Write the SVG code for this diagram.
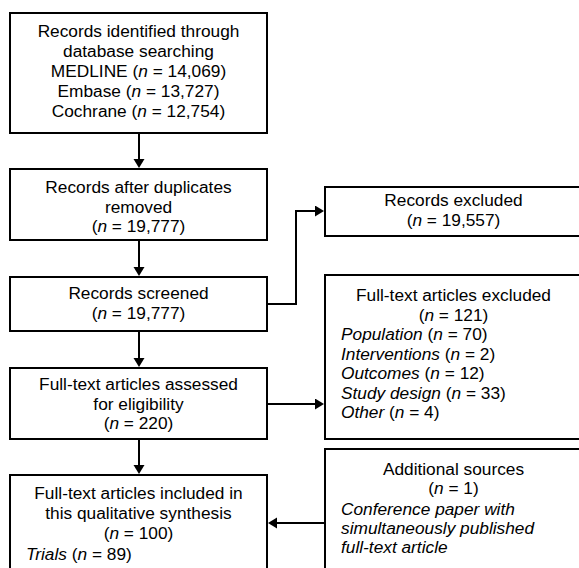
<svg xmlns="http://www.w3.org/2000/svg" width="579" height="568" viewBox="0 0 579 568">
  <style>
    .box { fill: #ffffff; stroke: #000000; stroke-width: 2; }
    .t { font-family: "Liberation Sans", Arial, sans-serif; font-size: 17.3px; fill: #000000; }
    .c { text-anchor: middle; }
    .i { font-style: italic; }
    .conn { fill: none; stroke: #000000; stroke-width: 2; }
  </style>
  <defs>
    <marker id="arrow" markerUnits="userSpaceOnUse" markerWidth="10" markerHeight="12" refX="5" refY="5.5" orient="auto">
      <path d="M0,0 L9,5.5 L0,11 z" fill="#000000"/>
    </marker>
  </defs>
  <rect x="0" y="0" width="579" height="568" fill="#ffffff"/>

  <g id="connectors">
    <line class="conn" x1="139" y1="133" x2="139" y2="164" marker-end="url(#arrow)"/>
    <line class="conn" x1="139" y1="240" x2="139" y2="272" marker-end="url(#arrow)"/>
    <line class="conn" x1="139" y1="331" x2="139" y2="363" marker-end="url(#arrow)"/>
    <line class="conn" x1="139" y1="439" x2="139" y2="470" marker-end="url(#arrow)"/>
    <polyline class="conn" points="267,304 296,304 296,211 320,211" marker-end="url(#arrow)"/>
    <line class="conn" x1="267" y1="404" x2="320" y2="404" marker-end="url(#arrow)"/>
    <line class="conn" x1="325" y1="523" x2="272" y2="523" marker-end="url(#arrow)"/>
  </g>

  <g id="identified">
    <rect class="box" x="10" y="13" width="257" height="120"/>
    <text class="t c" x="138.5" y="37">Records identified through</text>
    <text class="t c" x="138.5" y="57">database searching</text>
    <text class="t c" x="138.5" y="77">MEDLINE (<tspan class="i">n</tspan> = 14,069)</text>
    <text class="t c" x="138.5" y="97">Embase (<tspan class="i">n</tspan> = 13,727)</text>
    <text class="t c" x="138.5" y="117">Cochrane (<tspan class="i">n</tspan> = 12,754)</text>
  </g>

  <g id="duplicates">
    <rect class="box" x="10" y="169" width="257" height="71"/>
    <text class="t c" x="138.5" y="193">Records after duplicates</text>
    <text class="t c" x="138.5" y="212.5">removed</text>
    <text class="t c" x="138.5" y="232">(<tspan class="i">n</tspan> = 19,777)</text>
  </g>

  <g id="screened">
    <rect class="box" x="10" y="277" width="257" height="54"/>
    <text class="t c" x="138.5" y="299">Records screened</text>
    <text class="t c" x="138.5" y="319">(<tspan class="i">n</tspan> = 19,777)</text>
  </g>

  <g id="assessed">
    <rect class="box" x="10" y="368" width="257" height="71"/>
    <text class="t c" x="138.5" y="390">Full-text articles assessed</text>
    <text class="t c" x="138.5" y="409.5">for eligibility</text>
    <text class="t c" x="138.5" y="429">(<tspan class="i">n</tspan> = 220)</text>
  </g>

  <g id="included">
    <rect class="box" x="10" y="475" width="257" height="130"/>
    <text class="t c" x="138.5" y="499">Full-text articles included in</text>
    <text class="t c" x="138.5" y="519">this qualitative synthesis</text>
    <text class="t c" x="138.5" y="539">(<tspan class="i">n</tspan> = 100)</text>
    <text class="t" x="26" y="560"><tspan class="i">Trials</tspan> (<tspan class="i">n</tspan> = 89)</text>
  </g>

  <g id="records-excluded">
    <rect class="box" x="325" y="187" width="257" height="49"/>
    <text class="t c" x="453.5" y="206">Records excluded</text>
    <text class="t c" x="453.5" y="226">(<tspan class="i">n</tspan> = 19,557)</text>
  </g>

  <g id="fulltext-excluded">
    <rect class="box" x="325" y="275" width="257" height="164"/>
    <text class="t c" x="453.5" y="301">Full-text articles excluded</text>
    <text class="t c" x="453.5" y="320.5">(<tspan class="i">n</tspan> = 121)</text>
    <text class="t" x="341" y="340"><tspan class="i">Population</tspan> (<tspan class="i">n</tspan> = 70)</text>
    <text class="t" x="341" y="359.5"><tspan class="i">Interventions</tspan> (<tspan class="i">n</tspan> = 2)</text>
    <text class="t" x="341" y="379"><tspan class="i">Outcomes</tspan> (<tspan class="i">n</tspan> = 12)</text>
    <text class="t" x="341" y="398.5"><tspan class="i">Study design</tspan> (<tspan class="i">n</tspan> = 33)</text>
    <text class="t" x="341" y="418"><tspan class="i">Other</tspan> (<tspan class="i">n</tspan> = 4)</text>
  </g>

  <g id="additional">
    <rect class="box" x="325" y="449" width="257" height="150"/>
    <text class="t c" x="453.5" y="475">Additional sources</text>
    <text class="t c" x="453.5" y="494">(<tspan class="i">n</tspan> = 1)</text>
    <text class="t i" x="341" y="515">Conference paper with</text>
    <text class="t i" x="341" y="534">simultaneously published</text>
    <text class="t i" x="341" y="553">full-text article</text>
  </g>
</svg>
